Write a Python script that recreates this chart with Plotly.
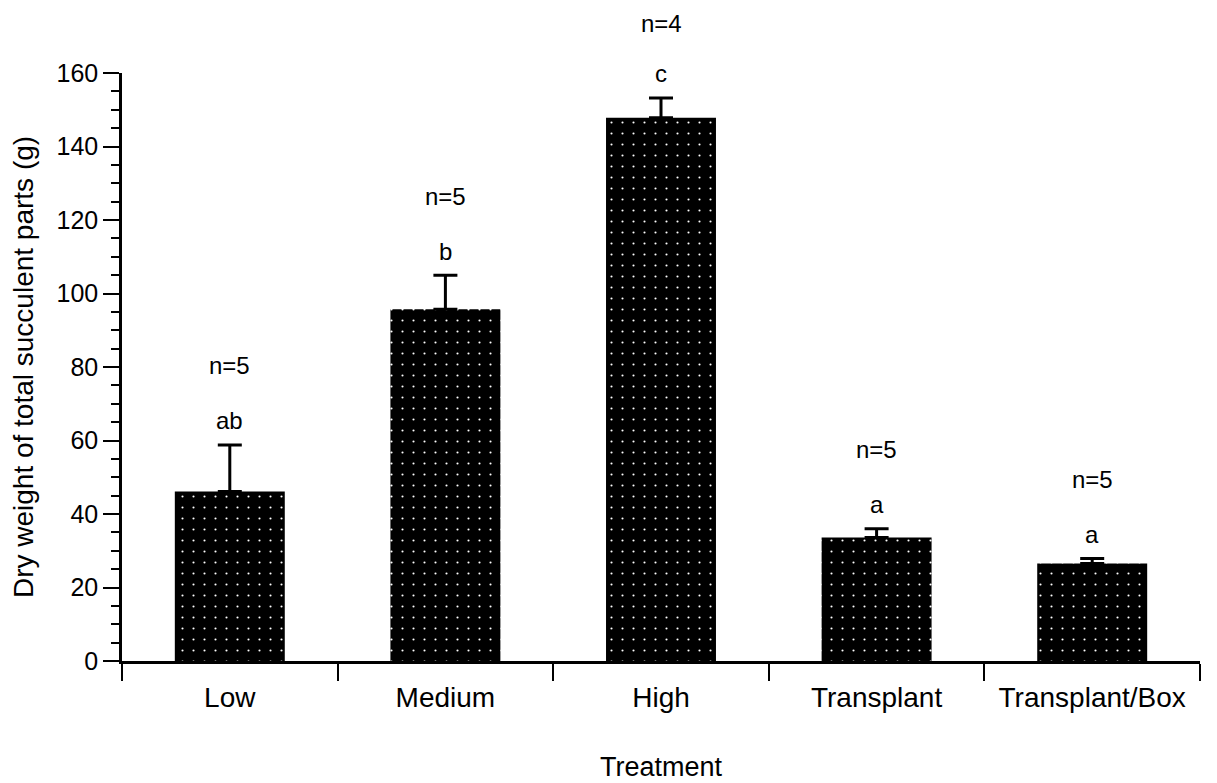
import plotly.graph_objects as go

# ---- data ----
treatments = ["Low", "Medium", "High", "Transplant", "Transplant/Box"]
mean_dry_weight = [46.1, 95.7, 147.8, 33.6, 26.5]
se_upper = [12.7, 9.3, 5.4, 2.4, 1.4]
sig_letters = ["ab", "b", "c", "a", "a"]
n_labels = ["n=5", "n=5", "n=4", "n=5", "n=5"]
y_tick_vals = [0, 20, 40, 60, 80, 100, 120, 140, 160]

FONT = "Liberation Sans, Arial, Helvetica, sans-serif"

WIDTH, HEIGHT = 1209, 775
M_L, M_R, M_T, M_B = 114, 17, 65, 122
Y_MAX = 160
px_per_unit = (HEIGHT - M_T - M_B) / Y_MAX

fig = go.Figure()
fig.add_trace(go.Bar(
    x=treatments,
    y=mean_dry_weight,
    width=0.51,
    marker=dict(
        color="black",
        line=dict(width=0),
        pattern=dict(shape=".", fgcolor="white", bgcolor="black",
                     size=11, solidity=0.03, fillmode="replace"),
    ),
    error_y=dict(type="data", symmetric=False, array=se_upper,
                 arrayminus=[0] * len(se_upper),
                 color="black", thickness=3, width=12),
    showlegend=False,
))

for cat, m, e, letter, nl in zip(treatments, mean_dry_weight, se_upper, sig_letters, n_labels):
    top = m + e
    cap_px = M_T + (Y_MAX - top) * px_per_unit  # distance of cap from top of figure
    n_shift = min(79, cap_px - 15)              # keep the label inside the figure
    fig.add_annotation(x=cat, y=top, text=letter, showarrow=False,
                       yanchor="middle", yshift=24,
                       font=dict(family=FONT, size=24, color="black"))
    fig.add_annotation(x=cat, y=top, text=nl, showarrow=False,
                       yanchor="middle", yshift=n_shift,
                       font=dict(family=FONT, size=24, color="black"))

fig.update_layout(
    width=WIDTH, height=HEIGHT,
    margin=dict(l=M_L, r=M_R, t=M_T, b=M_B, autoexpand=False),
    paper_bgcolor="white", plot_bgcolor="white",
    font=dict(family=FONT, color="black"),
    bargap=0.49,
)
fig.update_xaxes(
    type="category",
    range=[-0.5, 4.5],
    automargin=False,
    showline=True, linecolor="black", linewidth=2.5,
    ticks="outside", tickson="boundaries", ticklen=17, tickwidth=1.5, tickcolor="black",
    ticklabelstandoff=10,
    tickfont=dict(family=FONT, size=28, color="black"),
    showgrid=False, zeroline=False,
    title=dict(text="Treatment", font=dict(family=FONT, size=27, color="black"), standoff=45),
)
fig.update_yaxes(
    range=[0, Y_MAX],
    tickvals=y_tick_vals,
    automargin=False,
    showline=True, linecolor="black", linewidth=2.5,
    ticks="outside", ticklen=16, tickwidth=2, tickcolor="black",
    minor=dict(dtick=5, ticks="outside", ticklen=8, tickwidth=1.5, tickcolor="black", showgrid=False),
    tickfont=dict(family=FONT, size=25, color="black"),
    showgrid=False, zeroline=False,
    title=dict(text="Dry weight of total succulent parts (g)",
               font=dict(family=FONT, size=28, color="black"), standoff=24),
)

fig.write_html("out.html")
